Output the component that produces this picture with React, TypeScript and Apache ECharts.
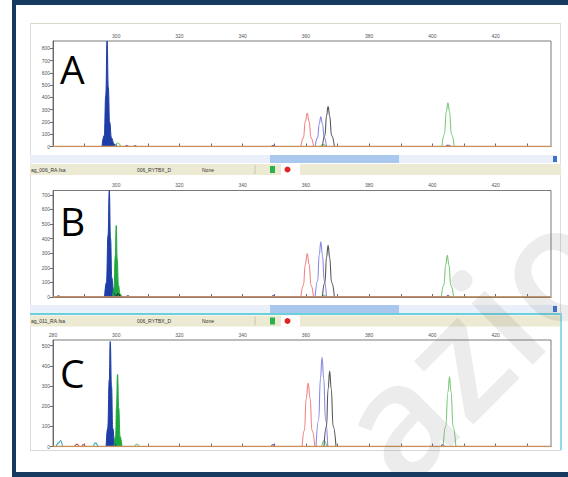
import React, { useEffect, useRef } from "react";
import * as echarts from "echarts";

// ---------- axis values ----------
const xLabelsAB = [300, 320, 340, 360, 380, 400, 420];
const xLabelsC = [280, 300, 320, 340, 360, 380, 400, 420];
const xTicks = [280, 290, 300, 310, 320, 330, 340, 350, 360, 370, 380, 390, 400, 410, 420, 430];
const xMin = 280;
const xMax = 437.5;
const yMaxes = [860, 730, 528];
const panelLetters = ["A", "B", "C"];
const fileNames = ["ag_006_RA.fsa", "ag_011_RA.fsa"];
const sampleName = "006_RYTBX_D";
const statusWord = "None";
const watermarkText = "azio";

// ---------- panel A traces [bp, RFU] ----------
const aBlueFill = [[295.5, 0], [296.2, 90], [296.7, 420], [297.1, 860], [297.5, 480], [297.9, 200], [298.5, 70], [299.3, 20], [300.3, 0]];
const aGreenSmall = [[299.6, 0], [300.5, 28], [301.4, 0]];
const aPurpleSmall = [[302.8, 0], [303.4, 8], [304.0, 0], [305.4, 0], [306.0, 8], [306.6, 0], [349.0, 0], [349.6, 10], [350.2, 0], [404.0, 0], [404.9, 12], [405.8, 0]];
const aRed = [[358.4, 0], [359.2, 70], [359.8, 205], [360.4, 270], [361.0, 205], [361.6, 70], [362.4, 0]];
const aBlueO = [[362.9, 0], [363.7, 70], [364.2, 185], [364.7, 242], [365.2, 185], [365.8, 70], [366.5, 0]];
const aBlack = [[365.2, 0], [366.0, 90], [366.5, 250], [367.0, 325], [367.5, 250], [368.1, 90], [369.0, 0]];
const aGreenO = [[403.0, 0], [403.8, 100], [404.4, 285], [404.9, 357], [405.4, 285], [406.0, 100], [406.9, 0]];
const aGreenBase = [[364.6, 0], [365.5, 15], [366.4, 0]];

// ---------- panel B traces ----------
const bBlueFill = [[296.3, 0], [296.9, 100], [297.4, 420], [297.8, 730], [298.2, 400], [298.6, 130], [299.2, 30], [299.8, 0]];
const bGreenFill = [[298.8, 0], [299.3, 60], [299.7, 280], [300.0, 490], [300.3, 260], [300.7, 80], [301.2, 20], [301.8, 0]];
const bBlackSmall = [[300.0, 0], [300.6, 22], [301.3, 0]];
const bPurpleSmall = [[281.2, 0], [281.8, 8], [282.4, 0], [303.0, 0], [303.7, 10], [304.4, 0], [349.0, 0], [349.6, 10], [350.2, 0], [404.2, 0], [404.9, 10], [405.6, 0]];
const bRed = [[358.4, 0], [359.2, 80], [359.8, 225], [360.4, 298], [361.0, 225], [361.6, 80], [362.4, 0]];
const bBlueO = [[362.9, 0], [363.7, 110], [364.2, 290], [364.7, 378], [365.2, 290], [365.8, 110], [366.5, 0]];
const bBlack = [[365.2, 0], [366.0, 100], [366.5, 270], [367.0, 355], [367.5, 270], [368.1, 100], [369.0, 0]];
const bGreenO = [[402.8, 0], [403.6, 80], [404.2, 220], [404.7, 286], [405.2, 220], [405.8, 80], [406.7, 0]];
const bGreenBase = [[364.8, 0], [365.6, 14], [366.4, 0]];

// ---------- panel C traces ----------
const cBlueFill = [[296.8, 0], [297.3, 90], [297.8, 330], [298.1, 520], [298.5, 300], [298.9, 90], [299.5, 15], [300.0, 0]];
const cGreenFill = [[299.3, 0], [299.8, 50], [300.1, 200], [300.4, 358], [300.8, 190], [301.2, 50], [301.8, 0]];
const cTealSmall = [[281.0, 0], [281.8, 18], [282.4, 30], [283.2, 0], [292.6, 0], [293.4, 18], [294.2, 0]];
const cRedSmall = [[286.8, 0], [287.6, 12], [288.4, 0], [289.0, 0], [289.6, 10], [290.2, 0]];
const cGreenSmall = [[305.8, 0], [306.6, 12], [307.4, 0], [364.8, 0], [365.7, 30], [366.6, 0]];
const cPurpleSmall = [[349.0, 0], [349.6, 10], [350.2, 0], [402.6, 0], [403.2, 10], [403.8, 0]];
const cRed = [[358.8, 0], [359.5, 80], [360.1, 240], [360.7, 315], [361.3, 240], [361.9, 80], [362.8, 0]];
const cBlueO = [[363.2, 0], [364.0, 130], [364.6, 340], [365.1, 442], [365.6, 340], [366.2, 130], [366.9, 0]];
const cBlack = [[365.7, 0], [366.5, 100], [367.0, 285], [367.5, 374], [368.0, 285], [368.6, 100], [369.5, 0]];
const cGreenO = [[403.4, 0], [404.2, 100], [404.9, 270], [405.4, 345], [405.9, 270], [406.5, 100], [407.4, 0]];

// ---------- colours ----------
const C_BLUE_FILL = "#1e3da6";
const C_GREEN_FILL = "#1ea83c";
const C_RED = "#f08686";
const C_BLUE_O = "#8a8ae4";
const C_BLACK = "#56565f";
const C_GREEN_O = "#7cca7c";
const C_PURPLE = "#8448a8";
const C_TEAL = "#3aa8b8";
const C_BASE = "#c8905a";

type Trace = { data: number[][]; color: string; fill?: boolean };

const panels: Trace[][] = [
  [
    { data: aBlueFill, color: C_BLUE_FILL, fill: true },
    { data: aGreenSmall, color: C_GREEN_O },
    { data: aPurpleSmall, color: C_PURPLE },
    { data: aGreenBase, color: C_GREEN_O },
    { data: aRed, color: C_RED },
    { data: aBlueO, color: C_BLUE_O },
    { data: aBlack, color: C_BLACK },
    { data: aGreenO, color: C_GREEN_O },
  ],
  [
    { data: bBlueFill, color: C_BLUE_FILL, fill: true },
    { data: bGreenFill, color: C_GREEN_FILL, fill: true },
    { data: bBlackSmall, color: "#222222" },
    { data: bPurpleSmall, color: C_PURPLE },
    { data: bGreenBase, color: C_GREEN_O },
    { data: bRed, color: C_RED },
    { data: bBlueO, color: C_BLUE_O },
    { data: bBlack, color: C_BLACK },
    { data: bGreenO, color: C_GREEN_O },
  ],
  [
    { data: cBlueFill, color: C_BLUE_FILL, fill: true },
    { data: cGreenFill, color: C_GREEN_FILL, fill: true },
    { data: cTealSmall, color: C_TEAL },
    { data: cRedSmall, color: "#c05050" },
    { data: cGreenSmall, color: C_GREEN_O },
    { data: cPurpleSmall, color: C_PURPLE },
    { data: cRed, color: C_RED },
    { data: cBlueO, color: C_BLUE_O },
    { data: cBlack, color: C_BLACK },
    { data: cGreenO, color: C_GREEN_O },
  ],
];

const gridBoxes = [
  { top: 41, height: 105.5 },
  { top: 190.5, height: 106.5 },
  { top: 340, height: 106.5 },
];
const letterY = [68, 220, 372];

export default function App() {
  const ref = useRef<HTMLDivElement>(null);
  useEffect(() => {
    if (!ref.current) return;
    const chart = echarts.init(ref.current, null, { renderer: "svg" });

    const grids = gridBoxes.map((g) => ({
      left: 53,
      right: 17,
      top: g.top,
      height: g.height,
      show: true,
      borderColor: "#7a7a7a",
      borderWidth: 1,
      backgroundColor: "#ffffff",
    }));

    const xAxes = panelLetters.map((_, i) => ({
      gridIndex: i,
      type: "value",
      position: "top",
      min: xMin,
      max: xMax,
      axisLine: { show: true, lineStyle: { color: "#6a6a6a", width: 1 } },
      axisTick: { show: true, customValues: xTicks, length: 3, lineStyle: { color: "#6a6a6a" } },
      axisLabel: {
        customValues: i === 2 ? xLabelsC : xLabelsAB,
        fontSize: 5,
        color: "#555555",
        margin: 3,
        fontFamily: "Liberation Sans",
      },
      splitLine: { show: false },
    }));

    const yAxes = yMaxes.map((m, i) => ({
      gridIndex: i,
      type: "value",
      min: 0,
      max: m,
      interval: 100,
      axisLine: { show: true, lineStyle: { color: "#6a6a6a", width: 1 } },
      axisTick: { show: true, length: 3, lineStyle: { color: "#6a6a6a" } },
      axisLabel: {
        fontSize: 5,
        color: "#555555",
        margin: 3,
        showMaxLabel: false,
        fontFamily: "Liberation Sans",
      },
      splitLine: { show: false },
    }));

    const series: any[] = [];
    panels.forEach((traces, i) => {
      traces.forEach((t) => {
        series.push({
          type: "line",
          xAxisIndex: i,
          yAxisIndex: i,
          data: t.data,
          smooth: 0.5,
          smoothMonotone: "x",
          showSymbol: false,
          silent: true,
          lineStyle: { color: t.color, width: t.fill ? 1 : 1.1 },
          areaStyle: t.fill ? { color: t.color, opacity: 1 } : undefined,
          z: t.fill ? 3 : 4,
        });
      });
      series.push({
        type: "line",
        xAxisIndex: i,
        yAxisIndex: i,
        data: [[xMin, 0], [xMax, 0]],
        showSymbol: false,
        silent: true,
        lineStyle: { color: C_BASE, width: 1.3 },
        z: 5,
      });
    });

    const statusBar = (y: number, file: string) => [
      { type: "rect", shape: { x: 30, y, width: 531, height: 11 }, style: { fill: "#ecead2" } },
      { type: "rect", shape: { x: 281, y, width: 19, height: 11 }, style: { fill: "#ffffff" } },
      { type: "line", shape: { x1: 255, y1: y + 1, x2: 255, y2: y + 10 }, style: { stroke: "#c8c6b0", lineWidth: 1 } },
      { type: "text", x: 31, y: y + 5.5, style: { text: file, fontSize: 5, fill: "#333", fontFamily: "Liberation Sans", textVerticalAlign: "middle" } },
      { type: "text", x: 137, y: y + 5.5, style: { text: sampleName, fontSize: 5, fill: "#333", fontFamily: "Liberation Sans", textVerticalAlign: "middle" } },
      { type: "text", x: 202, y: y + 5.5, style: { text: statusWord, fontSize: 5, fill: "#333", fontFamily: "Liberation Sans", textVerticalAlign: "middle" } },
      { type: "rect", shape: { x: 270, y: y + 2, width: 5, height: 7 }, style: { fill: "#2cb04a" } },
      { type: "circle", shape: { cx: 287.5, cy: y + 5.5, r: 3 }, style: { fill: "#e02424" } },
    ];
    const scrollBar = (y: number) => [
      { type: "rect", shape: { x: 30, y, width: 527, height: 8 }, style: { fill: "#e9f0fa" } },
      { type: "rect", shape: { x: 270, y, width: 129, height: 8 }, style: { fill: "#aac8ee" } },
      { type: "rect", shape: { x: 553, y: y + 1, width: 4, height: 6 }, style: { fill: "#3d6fd0" } },
    ];

    const graphic: any[] = [
      // software window frame
      { type: "line", shape: { x1: 30, y1: 23.5, x2: 561, y2: 23.5 }, style: { stroke: "#dcd8c8", lineWidth: 1 } },
      { type: "line", shape: { x1: 30.5, y1: 23, x2: 30.5, y2: 450 }, style: { stroke: "#dedede", lineWidth: 1 } },
      { type: "line", shape: { x1: 560.5, y1: 23, x2: 560.5, y2: 313 }, style: { stroke: "#dedede", lineWidth: 1 } },
      { type: "line", shape: { x1: 30, y1: 450.5, x2: 561, y2: 450.5 }, style: { stroke: "#d8d8d8", lineWidth: 1 } },
      ...scrollBar(155),
      ...statusBar(164, fileNames[0]),
      ...scrollBar(305),
      { type: "rect", shape: { x: 30, y: 313, width: 531, height: 2 }, style: { fill: "#6ccfdc" } },
      ...statusBar(315.5, fileNames[1]),
      { type: "rect", shape: { x: 560, y: 313, width: 2, height: 137 }, style: { fill: "#8fdbe6" } },
      // panel letters
      ...panelLetters.map((t, i) => ({
        type: "text",
        x: 60,
        y: letterY[i],
        z: 50,
        style: { text: t, fontSize: 39, fill: "#000", fontFamily: "Open Sans", textVerticalAlign: "middle" },
      })),
      // watermark
      {
        type: "text",
        x: 360,
        y: 450,
        rotation: Math.PI / 4,
        z: 55,
        style: {
          text: watermarkText,
          fontSize: 160,
          fontWeight: 600,
          fontFamily: "Open Sans",
          fill: "rgba(110,110,110,0.13)",
          textVerticalAlign: "middle",
        },
      },
      // outer navy frame
      { type: "rect", shape: { x: 12, y: 0, width: 556, height: 5 }, style: { fill: "#163a5f" }, z: 60 },
      { type: "rect", shape: { x: 12, y: 0, width: 4, height: 477 }, style: { fill: "#163a5f" }, z: 60 },
      { type: "rect", shape: { x: 12, y: 472, width: 556, height: 5 }, style: { fill: "#163a5f" }, z: 60 },
    ];

    chart.setOption({
      animation: false,
      backgroundColor: "#ffffff",
      grid: grids,
      xAxis: xAxes,
      yAxis: yAxes,
      series,
      graphic,
    });
    return () => chart.dispose();
  }, []);

  return <div ref={ref} style={{ position: "fixed", left: 0, top: 0, width: 568, height: 477 }} />;
}
